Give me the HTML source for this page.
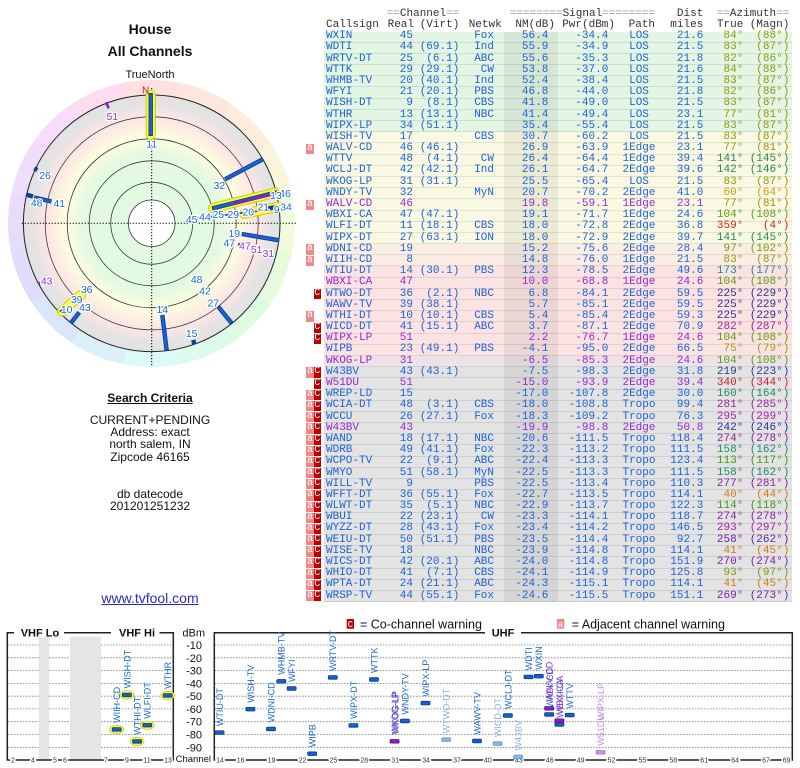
<!DOCTYPE html>
<html><head><meta charset="utf-8">
<style>
*{margin:0;padding:0;box-sizing:border-box}
body{width:800px;height:768px;position:relative;background:#fff;overflow:hidden;font-family:"Liberation Sans",sans-serif}
.c{position:absolute;left:0;width:300px;text-align:center;color:#111;white-space:pre}
.ring{position:absolute;left:8.4px;top:80px;width:286.6px;height:286.6px;border-radius:50%;
background:conic-gradient(from -11.25deg,#fde1e1 0deg 22.5deg,#fde6dc 22.5deg 45deg,#fdedda 45deg 67.5deg,#fbf6da 67.5deg 90deg,#f2fbdc 90deg 112.5deg,#e6fbdc 112.5deg 135deg,#dcfbe0 135deg 157.5deg,#dcfbec 157.5deg 180deg,#dcfbf8 180deg 202.5deg,#dcf0fb 202.5deg 225deg,#dce6fb 225deg 247.5deg,#e0dcfb 247.5deg 270deg,#e8dcfb 270deg 292.5deg,#f0dcfb 292.5deg 315deg,#f8dcfb 315deg 337.5deg,#fcdcee 337.5deg 360deg)}
svg{position:absolute;left:0;top:0}
.h{position:absolute;font-family:"Liberation Mono",monospace;font-size:11px;line-height:12px;color:#333;white-space:pre}
.h u{text-decoration:none;color:#9a9a9a}
.t{position:absolute;left:323.5px;top:31.5px;width:468px;font-family:"Liberation Mono",monospace;font-size:11px;line-height:11.2px;color:#1d63d6}
.r{position:relative;height:11.2px;background:#e3f5e3;border-bottom:1px solid rgba(0,0,0,.09)}
.r::before{content:"";position:absolute;left:180.5px;width:54px;top:0;height:11.2px;background:rgba(0,0,0,.06)}
.r i{position:absolute;top:-.3px;font-style:normal;white-space:pre}
.r i:nth-of-type(1){left:2.5px}
.r i:nth-of-type(2){right:378.5px}
.r i:nth-of-type(3){right:332.2px}
.r i:nth-of-type(4){right:297.5px}
.r i:nth-of-type(5){right:243.2px}
.r i:nth-of-type(6){right:183.2px}
.r i:nth-of-type(7){left:290.5px;width:50px;text-align:center}
.r i:nth-of-type(8){right:88.2px}
.r i:nth-of-type(9){right:48.2px;color:var(--a)}
.r i:nth-of-type(10){right:2.2px;color:var(--a)}
.y{background:#f9f9e3}.o{background:#fbede3}.k{background:#fbe3e3}.q{background:#ece3e6}.n{background:#e3e3e3}
.p{color:#9628d2}
.r b{position:absolute;top:.3px;height:10.2px;font-weight:normal;color:#fff;text-align:center;font-size:10px;line-height:10px}
.fa{left:-17.5px;width:8px;background:#f08888}
.fc{left:-9.5px;width:6.5px;background:#c00000}
.pl text{font-size:10.5px;text-anchor:middle;stroke:#fff;stroke-width:2.5px;paint-order:stroke;stroke-linejoin:round}
.bl text{font-size:9px}
.ax text{font-size:7px;fill:#333;text-anchor:middle;stroke:#fff;stroke-width:3px;paint-order:stroke}
</style></head><body>

<div class="c" style="top:21px;font-size:14px;font-weight:bold;line-height:16px">House</div>
<div class="c" style="top:43px;font-size:14px;font-weight:bold;line-height:16px">All Channels</div>
<div class="c" style="top:68.8px;font-size:11px;line-height:13px">TrueNorth</div>

<div class="ring"></div>

<svg width="800" height="768" viewBox="0 0 800 768">
<defs>
<radialGradient id="rg" cx="151.7" cy="223.3" r="128.3" gradientUnits="userSpaceOnUse">
<stop offset="0" stop-color="#e2f9e2"/>
<stop offset="0.54" stop-color="#e4f9e2"/>
<stop offset="0.62" stop-color="#f5fbe0"/>
<stop offset="0.69" stop-color="#fcfce0"/>
<stop offset="0.76" stop-color="#fdeee2"/>
<stop offset="0.84" stop-color="#fce4e4"/>
<stop offset="0.89" stop-color="#f0e4e4"/>
<stop offset="0.91" stop-color="#e4e4e4"/>
<stop offset="1" stop-color="#e2e2e2"/>
</radialGradient>
</defs>
<!-- polar -->
<circle cx="151.7" cy="223.3" r="128.3" fill="url(#rg)" stroke="#222" stroke-width="1"/>
<g fill="none" stroke="#3a3a3a" stroke-width=".8">
<circle cx="151.7" cy="223.3" r="106.5"/>
<circle cx="151.7" cy="223.3" r="84.5"/>
<circle cx="151.7" cy="223.3" r="62.5"/>
<circle cx="151.7" cy="223.3" r="41"/>
</g>
<circle cx="151.7" cy="223.3" r="23.3" fill="#fff" stroke="#333" stroke-width=".8"/>
<g stroke="#000" stroke-width="1" stroke-dasharray="1.2 1.8">
<line x1="21.7" y1="223.3" x2="296.7" y2="223.3"/>
<line x1="151.7" y1="88" x2="151.7" y2="367"/>
</g>
<!-- yellow halos -->
<g stroke-linecap="round">
<g stroke="#c8c800" stroke-width="10">
<line x1="150.7" y1="95" x2="150.7" y2="135"/>
<line x1="213" y1="208" x2="275" y2="192.6"/>
<line x1="244" y1="213.8" x2="279" y2="206.6"/>
<line x1="62" y1="311.5" x2="81" y2="295"/>
</g>
<g stroke="#ffff30" stroke-width="8.2">
<line x1="150.7" y1="95" x2="150.7" y2="135"/>
<line x1="213" y1="208" x2="275" y2="192.6"/>
<line x1="244" y1="213.8" x2="279" y2="206.6"/>
<line x1="62" y1="311.5" x2="81" y2="295"/>
</g>
</g>
<!-- bars -->
<g stroke="#0a3f96" stroke-width="4.4">
<line x1="150.7" y1="93" x2="150.7" y2="136"/>
<line x1="225" y1="179.3" x2="263.3" y2="159"/>
<line x1="212" y1="208.5" x2="277" y2="192.3"/>
<line x1="268" y1="208.5" x2="277" y2="206.8"/>
<line x1="241.7" y1="234" x2="279.3" y2="240.3"/>
<line x1="218.3" y1="306.7" x2="231.7" y2="323.3"/>
<line x1="162.3" y1="315" x2="166.7" y2="350.7"/>
<line x1="79.3" y1="312.3" x2="70.7" y2="323.3"/>
<line x1="60.5" y1="313" x2="64.5" y2="310"/>
<line x1="34.3" y1="168.3" x2="37.3" y2="170"/>
<line x1="26" y1="194.5" x2="33" y2="196.5"/>
<line x1="34" y1="197.5" x2="51.5" y2="201.5"/>
<line x1="193.3" y1="340" x2="194.3" y2="344.5"/>
</g>
<g stroke="#1a62d4" stroke-width="2.6">
<line x1="150.7" y1="94" x2="150.7" y2="135"/>
<line x1="225.5" y1="179" x2="262.8" y2="159.3"/>
<line x1="213" y1="208.2" x2="276" y2="192.6"/>
<line x1="242.5" y1="234.1" x2="278.5" y2="240.2"/>
<line x1="218.8" y1="307.3" x2="231.2" y2="322.7"/>
<line x1="162.4" y1="316" x2="166.6" y2="349.7"/>
<line x1="78.8" y1="313" x2="71.2" y2="322.6"/>
<line x1="34.7" y1="198" x2="51" y2="201.3"/>
</g>
<line x1="196" y1="218.5" x2="279" y2="208.5" stroke="#1a4fb0" stroke-width="1.8"/>
<g stroke="#8a1cc0" stroke-width="2.6">
<line x1="233" y1="204.2" x2="277" y2="193.2"/>
<line x1="106" y1="102.3" x2="108.7" y2="108.3"/>
<line x1="38.5" y1="282.5" x2="40.5" y2="284.2"/>
<line x1="238" y1="244" x2="241" y2="245"/>
<line x1="251" y1="247.5" x2="254" y2="248.5"/>
<line x1="263" y1="251" x2="266" y2="252"/>
</g>
<text x="145.6" y="93.3" font-size="10" fill="#d42020" text-anchor="middle">N</text>
<g class="pl" fill="#1a66d8">
<text x="151.7" y="147.3">11</text>
<text x="45" y="178.8">26</text>
<text x="36.7" y="206.5">48</text>
<text x="59.3" y="207.1">41</text>
<text x="219.3" y="188.8">32</text>
<text x="191.7" y="223.1">45</text>
<text x="205" y="220.5">44</text>
<text x="218.3" y="218.1">25</text>
<text x="233.3" y="218.1">29</text>
<text x="248.3" y="215.5">20</text>
<text x="263.3" y="210.5">21</text>
<text x="276.7" y="212.8">9</text>
<text x="286" y="210.5">34</text>
<text x="285" y="197.1">46</text>
<text x="276" y="198.8">13</text>
<text x="234.3" y="237.1">19</text>
<text x="229.3" y="246.5">47</text>
<text x="196.7" y="283.1">48</text>
<text x="205" y="294.5">42</text>
<text x="213.3" y="306.5">27</text>
<text x="162.3" y="313.1">14</text>
<text x="191.7" y="337.1">15</text>
<text x="85" y="311.1">43</text>
<text x="86.7" y="293.1">36</text>
<text x="76.7" y="303.1">39</text>
<text x="66.7" y="313.1">10</text>
</g>
<g class="pl" fill="#9a30d0">
<text x="112.3" y="119.8">51</text>
<text x="245" y="249.5">47</text>
<text x="256.7" y="253.1">51</text>
<text x="268.3" y="257.1">31</text>
<text x="46.7" y="284.5">43</text>
</g>

<!-- bottom chart -->
<rect x="39" y="636.7" width="10.3" height="123.3" fill="#e5e5e5"/>
<rect x="70" y="636.7" width="31" height="123.3" fill="#e5e5e5"/>
<g stroke="#777" stroke-width=".8" stroke-dasharray="1.5 1.5">
<path d="M8 645H39M49.3 645H70M101 645H173M215 645H792"/>
<path d="M8 657.8H39M49.3 657.8H70M101 657.8H173M215 657.8H792"/>
<path d="M8 670.6H39M49.3 670.6H70M101 670.6H173M215 670.6H792"/>
<path d="M8 683.4H39M49.3 683.4H70M101 683.4H173M215 683.4H792"/>
<path d="M8 696.2H39M49.3 696.2H70M101 696.2H173M215 696.2H792"/>
<path d="M8 708.9H39M49.3 708.9H70M101 708.9H173M215 708.9H792"/>
<path d="M8 721.7H39M49.3 721.7H70M101 721.7H173M215 721.7H792"/>
<path d="M8 734.5H39M49.3 734.5H70M101 734.5H173M215 734.5H792"/>
<path d="M8 747.3H39M49.3 747.3H70M101 747.3H173M215 747.3H792"/>
</g>
<g stroke="#222" stroke-width="1.5" fill="none">
<path d="M14 632.7H7.3V760H173.3V632.7H159.5M111 632.7H64"/>
<path d="M485 632.7H214.3V760H792.3V632.7H521"/>
</g>
<g font-weight="bold" font-size="11" fill="#111">
<text x="20.7" y="636.7">VHF Lo</text>
<text x="119" y="636.7">VHF Hi</text>
<text x="491.7" y="636.7">UHF</text>
</g>
<g font-size="11" fill="#111" text-anchor="end">
<text x="205" y="636.7">dBm</text>
<text x="202" y="649">-10</text>
<text x="202" y="661.8">-20</text>
<text x="202" y="674.6">-30</text>
<text x="202" y="687.4">-40</text>
<text x="202" y="700.2">-50</text>
<text x="202" y="712.9">-60</text>
<text x="202" y="725.7">-70</text>
<text x="202" y="738.5">-80</text>
<text x="202" y="751.3">-90</text>
</g>
<text x="211" y="762" font-size="9.5" fill="#111" text-anchor="end">Channel</text>
<g class="ax">
<text x="13" y="762.5">2</text><text x="33" y="762.5">4</text><text x="55" y="762.5">5</text><text x="65" y="762.5">6</text>
<text x="106" y="762.5">7</text><text x="127" y="762.5">9</text><text x="147" y="762.5">11</text><text x="168" y="762.5">13</text>
<text x="220" y="762.5">14</text><text x="240.6" y="762.5">16</text><text x="271.5" y="762.5">19</text><text x="302.5" y="762.5">22</text>
<text x="333.4" y="762.5">25</text><text x="364.3" y="762.5">28</text><text x="395.2" y="762.5">31</text><text x="426" y="762.5">34</text>
<text x="457" y="762.5">37</text><text x="487.9" y="762.5">40</text><text x="518.8" y="762.5">43</text><text x="549.7" y="762.5">46</text>
<text x="580.6" y="762.5">49</text><text x="611.5" y="762.5">52</text><text x="642.4" y="762.5">55</text><text x="673.3" y="762.5">58</text>
<text x="704.2" y="762.5">61</text><text x="735.1" y="762.5">64</text><text x="766" y="762.5">67</text><text x="786.6" y="762.5">69</text>
</g>
<!-- legend -->
<rect x="346.7" y="619" width="7.3" height="9.7" fill="#c00000"/>
<text x="350.3" y="627" font-size="9" fill="#fff" text-anchor="middle" font-family="Liberation Mono">C</text>
<text x="360" y="628.5" font-size="12.5" fill="#111">= Co-channel warning</text>
<rect x="557" y="619" width="7.3" height="9.7" fill="#f08888"/>
<text x="560.6" y="627" font-size="9" fill="#fff" text-anchor="middle" font-family="Liberation Mono">a</text>
<text x="571.7" y="628.5" font-size="12.5" fill="#111">= Adjacent channel warning</text>

<!-- VHF halos -->
<g fill="#ffff30" stroke="#b8b800" stroke-width=".6">
<ellipse cx="116.7" cy="729.4" rx="7" ry="4.2"/>
<ellipse cx="126.9" cy="694.9" rx="7" ry="4.2"/>
<ellipse cx="137.1" cy="741.4" rx="7" ry="4.2"/>
<ellipse cx="147.3" cy="725.2" rx="7" ry="4.2"/>
<ellipse cx="167.7" cy="695.4" rx="7" ry="4.2"/>
</g>
<!-- bars blue -->
<g fill="#1460cf" stroke="#083a8a" stroke-width=".8">
<rect x="112.2" y="727.6" width="9" height="3.6" rx="1"/>
<rect x="122.4" y="693.1" width="9" height="3.6" rx="1"/>
<rect x="132.6" y="739.6" width="9" height="3.6" rx="1"/>
<rect x="142.8" y="723.4" width="9" height="3.6" rx="1"/>
<rect x="163.2" y="693.6" width="9" height="3.6" rx="1"/>
<rect x="215" y="730.8" width="9" height="3.6" rx="1"/>
<rect x="245.9" y="707.4" width="9" height="3.6" rx="1"/>
<rect x="266.5" y="727.1" width="9" height="3.6" rx="1"/>
<rect x="276.8" y="679.5" width="9" height="3.6" rx="1"/>
<rect x="287.1" y="686.7" width="9" height="3.6" rx="1"/>
<rect x="307.7" y="751.9" width="9" height="3.6" rx="1"/>
<rect x="328.3" y="675.6" width="9" height="3.6" rx="1"/>
<rect x="348.9" y="723.6" width="9" height="3.6" rx="1"/>
<rect x="369.5" y="677.7" width="9" height="3.6" rx="1"/>
<rect x="400.4" y="719.2" width="9" height="3.6" rx="1"/>
<rect x="421" y="701.3" width="9" height="3.6" rx="1"/>
<rect x="472.5" y="739.2" width="9" height="3.6" rx="1"/>
<rect x="503.4" y="713.7" width="9" height="3.6" rx="1"/>
<rect x="524" y="675.1" width="9" height="3.6" rx="1"/>
<rect x="534.3" y="674.4" width="9" height="3.6" rx="1"/>
<rect x="544.6" y="712.6" width="9" height="3.6" rx="1"/>
<rect x="554.9" y="722.6" width="9" height="3.6" rx="1"/>
<rect x="565.2" y="713.3" width="9" height="3.6" rx="1"/>
</g>
<g fill="#8a1cc0" stroke="#5a0a80" stroke-width=".8">
<rect x="390.1" y="739.5" width="9" height="3.6" rx="1"/>
<rect x="544.6" y="706.5" width="9" height="3.6" rx="1"/>
<rect x="554.9" y="718.9" width="9" height="3.6" rx="1"/>
</g>
<g fill="#8ab4e8" stroke="#6a94c8" stroke-width=".8">
<rect x="441.6" y="737.9" width="9" height="3.6" rx="1"/>
<rect x="493.1" y="741.8" width="9" height="3.6" rx="1"/>
<rect x="513.7" y="755.2" width="9" height="3.6" rx="1"/>
</g>
<g fill="#c890e8" stroke="#a870c8" stroke-width=".8">
<rect x="596.1" y="750.5" width="9" height="3.6" rx="1"/>
</g>
<!-- rotated labels -->
<g class="bl" fill="#1a66d8">
<text transform="translate(120.1,722.9) rotate(-90)">WIIH-CD</text>
<text transform="translate(130.3,688.4) rotate(-90)">WISH-DT</text>
<text transform="translate(140.5,734.9) rotate(-90)">WTHI-DT</text>
<text transform="translate(150.7,718.7) rotate(-90)">WLFI-DT</text>
<text transform="translate(171.1,688.9) rotate(-90)">WTHR</text>
<text transform="translate(222.9,726.1) rotate(-90)">WTIU-DT</text>
<text transform="translate(253.8,702.7) rotate(-90)">WISH-TV</text>
<text transform="translate(274.4,722.4) rotate(-90)">WDNI-CD</text>
<text transform="translate(284.7,674.8) rotate(-90)">WHMB-TV</text>
<text transform="translate(295,682) rotate(-90)">WFYI</text>
<text transform="translate(315.6,747.2) rotate(-90)">WIPB</text>
<text transform="translate(336.2,670.9) rotate(-90)">WRTV-DT</text>
<text transform="translate(356.8,718.9) rotate(-90)">WIPX-DT</text>
<text transform="translate(377.4,673) rotate(-90)">WTTK</text>
<text transform="translate(398.5,733.5) rotate(-90)">WKOG-LP</text>
<text transform="translate(408.3,714.5) rotate(-90)">WNDY-TV</text>
<text transform="translate(428.9,696.6) rotate(-90)">WIPX-LP</text>
<text transform="translate(480.4,734.5) rotate(-90)">WAWV-TV</text>
<text transform="translate(511.3,709) rotate(-90)">WCLJ-DT</text>
<text transform="translate(531.9,670.4) rotate(-90)">WDTI</text>
<text transform="translate(542.2,669.7) rotate(-90)">WXIN</text>
<text transform="translate(552.8,707.9) rotate(-90)">WALV-CD</text>
<text transform="translate(562.8,717.9) rotate(-90)">WBXI-CA</text>
<text transform="translate(573.1,708.6) rotate(-90)">WTTV</text>
</g>
<g class="bl" fill="#9a30d0">
<text transform="translate(398,734.8) rotate(-90)">WKOG-LP</text>
<text transform="translate(552.5,701.8) rotate(-90)">WALV-CD</text>
<text transform="translate(562.8,714.2) rotate(-90)">WBXI-CA</text>
</g>
<g class="bl" fill="#8ab0e0">
<text transform="translate(449.5,733.2) rotate(-90)">WTWO-DT</text>
<text transform="translate(501,737.1) rotate(-90)">WICD-DT</text>
<text transform="translate(521.6,750.5) rotate(-90)">W43BV</text>
</g>
<g class="bl" fill="#c08ee0">
<text transform="translate(604,745.8) rotate(-90)">W51DU</text>
<text transform="translate(604,720) rotate(-90)">WIPX-LP</text>
</g>
</svg>

<div class="c" style="top:391.3px;font-size:12px;font-weight:bold;line-height:14px;text-decoration:underline">Search Criteria</div>
<div class="c" style="top:413.9px;font-size:12px;line-height:12.2px">CURRENT+PENDING
Address: exact
north salem, IN
Zipcode 46165</div>
<div class="c" style="top:487.9px;font-size:12px;line-height:12.2px">db datecode
201201251232</div>
<div class="c" style="top:590.3px;font-size:14px;line-height:16px;color:#2a2ad0;text-decoration:underline">www.tvfool.com</div>

<div class="h" style="top:8.3px;right:340.7px"><u>==</u>Channel<u>==</u></div>
<div class="h" style="top:8.3px;right:145px"><u>========</u>Signal<u>========</u></div>
<div class="h" style="top:8.3px;right:96.7px">Dist</div>
<div class="h" style="top:8.3px;right:10.7px"><u>==</u>Azimuth<u>==</u></div>
<div class="h" style="top:19.3px;left:326px">Callsign</div>
<div class="h" style="top:19.3px;right:386px">Real</div>
<div class="h" style="top:19.3px;right:340.7px">(Virt)</div>
<div class="h" style="top:19.3px;right:298.3px">Netwk</div>
<div class="h" style="top:19.3px;right:245px">NM(dB)</div>
<div class="h" style="top:19.3px;right:185px">Pwr(dBm)</div>
<div class="h" style="top:19.3px;right:145px">Path</div>
<div class="h" style="top:19.3px;right:96.7px">miles</div>
<div class="h" style="top:19.3px;right:56.7px">True</div>
<div class="h" style="top:19.3px;right:10.7px">(Magn)</div>

<div class="t">
<div class="r" style="--a:#8c9a14"><i>WXIN</i><i>45</i><i></i><i>Fox</i><i>56.4</i><i>-34.4</i><i>LOS</i><i>21.6</i><i>84°</i><i>(88°)</i></div>
<div class="r" style="--a:#8c9a14"><i>WDTI</i><i>44</i><i>(69.1)</i><i>Ind</i><i>55.9</i><i>-34.9</i><i>LOS</i><i>21.5</i><i>83°</i><i>(87°)</i></div>
<div class="r" style="--a:#8c9a14"><i>WRTV-DT</i><i>25</i><i>(6.1)</i><i>ABC</i><i>55.6</i><i>-35.3</i><i>LOS</i><i>21.8</i><i>82°</i><i>(86°)</i></div>
<div class="r" style="--a:#8c9a14"><i>WTTK</i><i>29</i><i>(29.1)</i><i>CW</i><i>53.8</i><i>-37.0</i><i>LOS</i><i>21.6</i><i>84°</i><i>(88°)</i></div>
<div class="r" style="--a:#8c9a14"><i>WHMB-TV</i><i>20</i><i>(40.1)</i><i>Ind</i><i>52.4</i><i>-38.4</i><i>LOS</i><i>21.5</i><i>83°</i><i>(87°)</i></div>
<div class="r" style="--a:#8c9a14"><i>WFYI</i><i>21</i><i>(20.1)</i><i>PBS</i><i>46.8</i><i>-44.0</i><i>LOS</i><i>21.8</i><i>82°</i><i>(86°)</i></div>
<div class="r" style="--a:#8c9a14"><i>WISH-DT</i><i>9</i><i>(8.1)</i><i>CBS</i><i>41.8</i><i>-49.0</i><i>LOS</i><i>21.5</i><i>83°</i><i>(87°)</i></div>
<div class="r" style="--a:#98980e"><i>WTHR</i><i>13</i><i>(13.1)</i><i>NBC</i><i>41.4</i><i>-49.4</i><i>LOS</i><i>23.1</i><i>77°</i><i>(81°)</i></div>
<div class="r" style="--a:#8c9a14"><i>WIPX-LP</i><i>34</i><i>(51.1)</i><i></i><i>35.4</i><i>-55.4</i><i>LOS</i><i>21.5</i><i>83°</i><i>(87°)</i></div>
<div class="r y" style="--a:#8c9a14"><i>WISH-TV</i><i>17</i><i></i><i>CBS</i><i>30.7</i><i>-60.2</i><i>LOS</i><i>21.5</i><i>83°</i><i>(87°)</i></div>
<div class="r y" style="--a:#98980e"><b class="fa">a</b><i>WALV-CD</i><i>46</i><i>(46.1)</i><i></i><i>26.9</i><i>-63.9</i><i>1Edge</i><i>23.1</i><i>77°</i><i>(81°)</i></div>
<div class="r y" style="--a:#208a48"><i>WTTV</i><i>48</i><i>(4.1)</i><i>CW</i><i>26.4</i><i>-64.4</i><i>1Edge</i><i>39.4</i><i>141°</i><i>(145°)</i></div>
<div class="r y" style="--a:#208a48"><i>WCLJ-DT</i><i>42</i><i>(42.1)</i><i>Ind</i><i>26.1</i><i>-64.7</i><i>2Edge</i><i>39.6</i><i>142°</i><i>(146°)</i></div>
<div class="r y" style="--a:#8c9a14"><i>WKOG-LP</i><i>31</i><i>(31.1)</i><i></i><i>25.5</i><i>-65.4</i><i>LOS</i><i>21.5</i><i>83°</i><i>(87°)</i></div>
<div class="r y" style="--a:#d49a0a"><i>WNDY-TV</i><i>32</i><i></i><i>MyN</i><i>20.7</i><i>-70.2</i><i>2Edge</i><i>41.0</i><i>60°</i><i>(64°)</i></div>
<div class="r y p" style="--a:#98980e"><b class="fa">a</b><i>WALV-CD</i><i>46</i><i></i><i></i><i>19.8</i><i>-59.1</i><i>1Edge</i><i>23.1</i><i>77°</i><i>(81°)</i></div>
<div class="r y" style="--a:#5c9c10"><i>WBXI-CA</i><i>47</i><i>(47.1)</i><i></i><i>19.1</i><i>-71.7</i><i>1Edge</i><i>24.6</i><i>104°</i><i>(108°)</i></div>
<div class="r y" style="--a:#d42020"><i>WLFI-DT</i><i>11</i><i>(18.1)</i><i>CBS</i><i>18.0</i><i>-72.8</i><i>2Edge</i><i>36.8</i><i>359°</i><i>(4°)</i></div>
<div class="r y" style="--a:#208a48"><i>WIPX-DT</i><i>27</i><i>(63.1)</i><i>ION</i><i>18.0</i><i>-72.9</i><i>2Edge</i><i>39.7</i><i>141°</i><i>(145°)</i></div>
<div class="r o" style="--a:#749c10"><b class="fa">a</b><i>WDNI-CD</i><i>19</i><i></i><i></i><i>15.2</i><i>-75.6</i><i>2Edge</i><i>28.4</i><i>97°</i><i>(102°)</i></div>
<div class="r o" style="--a:#8c9a14"><b class="fa">a</b><i>WIIH-CD</i><i>8</i><i></i><i></i><i>14.8</i><i>-76.0</i><i>1Edge</i><i>21.5</i><i>83°</i><i>(87°)</i></div>
<div class="r k" style="--a:#1a8a8a"><i>WTIU-DT</i><i>14</i><i>(30.1)</i><i>PBS</i><i>12.3</i><i>-78.5</i><i>2Edge</i><i>49.6</i><i>173°</i><i>(177°)</i></div>
<div class="r k p" style="--a:#5c9c10"><i>WBXI-CA</i><i>47</i><i></i><i></i><i>10.0</i><i>-68.8</i><i>1Edge</i><i>24.6</i><i>104°</i><i>(108°)</i></div>
<div class="r k" style="--a:#2a309c"><b class="fc">C</b><i>WTWO-DT</i><i>36</i><i>(2.1)</i><i>NBC</i><i>6.8</i><i>-84.1</i><i>2Edge</i><i>59.5</i><i>225°</i><i>(229°)</i></div>
<div class="r k" style="--a:#2a309c"><i>WAWV-TV</i><i>39</i><i>(38.1)</i><i></i><i>5.7</i><i>-85.1</i><i>2Edge</i><i>59.5</i><i>225°</i><i>(229°)</i></div>
<div class="r k" style="--a:#2a309c"><b class="fa">a</b><i>WTHI-DT</i><i>10</i><i>(10.1)</i><i>CBS</i><i>5.4</i><i>-85.4</i><i>2Edge</i><i>59.3</i><i>225°</i><i>(229°)</i></div>
<div class="r k" style="--a:#a02098"><b class="fc">C</b><i>WICD-DT</i><i>41</i><i>(15.1)</i><i>ABC</i><i>3.7</i><i>-87.1</i><i>2Edge</i><i>70.9</i><i>282°</i><i>(287°)</i></div>
<div class="r k p" style="--a:#5c9c10"><b class="fc">C</b><i>WIPX-LP</i><i>51</i><i></i><i></i><i>2.2</i><i>-76.7</i><i>1Edge</i><i>24.6</i><i>104°</i><i>(108°)</i></div>
<div class="r k" style="--a:#a09c0a"><i>WIPB</i><i>23</i><i>(49.1)</i><i>PBS</i><i>-4.1</i><i>-95.0</i><i>2Edge</i><i>66.5</i><i>75°</i><i>(79°)</i></div>
<div class="r q p" style="--a:#5c9c10"><i>WKOG-LP</i><i>31</i><i></i><i></i><i>-6.5</i><i>-85.3</i><i>2Edge</i><i>24.6</i><i>104°</i><i>(108°)</i></div>
<div class="r n" style="--a:#2a3a9c"><b class="fa">a</b><b class="fc">C</b><i>W43BV</i><i>43</i><i>(43.1)</i><i></i><i>-7.5</i><i>-98.3</i><i>2Edge</i><i>31.8</i><i>219°</i><i>(223°)</i></div>
<div class="r n p" style="--a:#c8203c"><b class="fc">C</b><i>W51DU</i><i>51</i><i></i><i></i><i>-15.0</i><i>-93.9</i><i>2Edge</i><i>39.4</i><i>340°</i><i>(344°)</i></div>
<div class="r n" style="--a:#1a8a6a"><b class="fa">a</b><b class="fc">C</b><i>WREP-LD</i><i>15</i><i></i><i></i><i>-17.0</i><i>-107.8</i><i>2Edge</i><i>30.0</i><i>160°</i><i>(164°)</i></div>
<div class="r n" style="--a:#9a20a4"><b class="fa">a</b><b class="fc">C</b><i>WCIA-DT</i><i>48</i><i>(3.1)</i><i>CBS</i><i>-18.0</i><i>-108.8</i><i>Tropo</i><i>99.4</i><i>281°</i><i>(285°)</i></div>
<div class="r n" style="--a:#a820a0"><b class="fa">a</b><b class="fc">C</b><i>WCCU</i><i>26</i><i>(27.1)</i><i>Fox</i><i>-18.3</i><i>-109.2</i><i>Tropo</i><i>76.3</i><i>295°</i><i>(299°)</i></div>
<div class="r n p" style="--a:#30289c"><b class="fa">a</b><b class="fc">C</b><i>W43BV</i><i>43</i><i></i><i></i><i>-19.9</i><i>-98.8</i><i>2Edge</i><i>50.8</i><i>242°</i><i>(246°)</i></div>
<div class="r n" style="--a:#8c20a8"><b class="fa">a</b><b class="fc">C</b><i>WAND</i><i>18</i><i>(17.1)</i><i>NBC</i><i>-20.6</i><i>-111.5</i><i>Tropo</i><i>118.4</i><i>274°</i><i>(278°)</i></div>
<div class="r n" style="--a:#1a8a68"><b class="fa">a</b><b class="fc">C</b><i>WDRB</i><i>49</i><i>(41.1)</i><i>Fox</i><i>-22.3</i><i>-113.2</i><i>Tropo</i><i>111.5</i><i>158°</i><i>(162°)</i></div>
<div class="r n" style="--a:#3a9a10"><b class="fa">a</b><b class="fc">C</b><i>WCPO-TV</i><i>22</i><i>(9.1)</i><i>ABC</i><i>-22.4</i><i>-113.3</i><i>Tropo</i><i>123.4</i><i>113°</i><i>(117°)</i></div>
<div class="r n" style="--a:#1a8a68"><b class="fa">a</b><b class="fc">C</b><i>WMYO</i><i>51</i><i>(58.1)</i><i>MyN</i><i>-22.5</i><i>-113.3</i><i>Tropo</i><i>111.5</i><i>158°</i><i>(162°)</i></div>
<div class="r n" style="--a:#9020a8"><b class="fa">a</b><b class="fc">C</b><i>WILL-TV</i><i>9</i><i></i><i>PBS</i><i>-22.5</i><i>-113.4</i><i>Tropo</i><i>110.3</i><i>277°</i><i>(281°)</i></div>
<div class="r n" style="--a:#d47a10"><b class="fa">a</b><b class="fc">C</b><i>WFFT-DT</i><i>36</i><i>(55.1)</i><i>Fox</i><i>-22.7</i><i>-113.5</i><i>Tropo</i><i>114.1</i><i>40°</i><i>(44°)</i></div>
<div class="r n" style="--a:#3a9a10"><b class="fa">a</b><b class="fc">C</b><i>WLWT-DT</i><i>35</i><i>(5.1)</i><i>NBC</i><i>-22.9</i><i>-113.7</i><i>Tropo</i><i>122.3</i><i>114°</i><i>(118°)</i></div>
<div class="r n" style="--a:#8c20a8"><b class="fa">a</b><b class="fc">C</b><i>WBUI</i><i>22</i><i>(23.1)</i><i>CW</i><i>-23.3</i><i>-114.1</i><i>Tropo</i><i>118.7</i><i>274°</i><i>(278°)</i></div>
<div class="r n" style="--a:#a820a4"><b class="fa">a</b><b class="fc">C</b><i>WYZZ-DT</i><i>28</i><i>(43.1)</i><i>Fox</i><i>-23.4</i><i>-114.2</i><i>Tropo</i><i>146.5</i><i>293°</i><i>(297°)</i></div>
<div class="r n" style="--a:#6020a8"><b class="fa">a</b><b class="fc">C</b><i>WEIU-DT</i><i>50</i><i>(51.1)</i><i>PBS</i><i>-23.5</i><i>-114.4</i><i>Tropo</i><i>92.7</i><i>258°</i><i>(262°)</i></div>
<div class="r n" style="--a:#d47a10"><b class="fa">a</b><b class="fc">C</b><i>WISE-TV</i><i>18</i><i></i><i>NBC</i><i>-23.9</i><i>-114.8</i><i>Tropo</i><i>114.1</i><i>41°</i><i>(45°)</i></div>
<div class="r n" style="--a:#7a20a8"><b class="fa">a</b><b class="fc">C</b><i>WICS-DT</i><i>42</i><i>(20.1)</i><i>ABC</i><i>-24.0</i><i>-114.8</i><i>Tropo</i><i>151.9</i><i>270°</i><i>(274°)</i></div>
<div class="r n" style="--a:#7a9c10"><b class="fa">a</b><b class="fc">C</b><i>WHIO-DT</i><i>41</i><i>(7.1)</i><i>CBS</i><i>-24.1</i><i>-114.9</i><i>Tropo</i><i>125.8</i><i>93°</i><i>(97°)</i></div>
<div class="r n" style="--a:#d47a10"><b class="fa">a</b><b class="fc">C</b><i>WPTA-DT</i><i>24</i><i>(21.1)</i><i>ABC</i><i>-24.3</i><i>-115.1</i><i>Tropo</i><i>114.1</i><i>41°</i><i>(45°)</i></div>
<div class="r n" style="--a:#7a20a8"><b class="fa">a</b><b class="fc">C</b><i>WRSP-TV</i><i>44</i><i>(55.1)</i><i>Fox</i><i>-24.6</i><i>-115.5</i><i>Tropo</i><i>151.1</i><i>269°</i><i>(273°)</i></div>
</div>
</body></html>
